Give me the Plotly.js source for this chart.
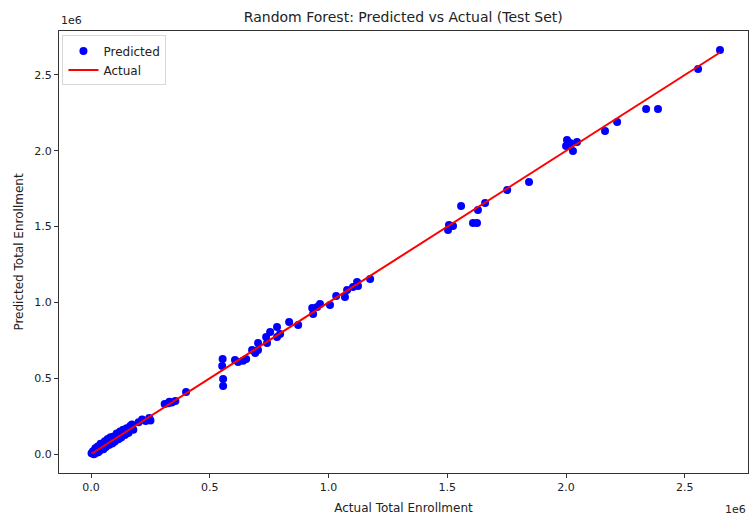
<!DOCTYPE html>
<html>
<head>
<meta charset="utf-8">
<script src="https://cdn.plot.ly/plotly-3.0.1.min.js"></script>
<style>html,body{margin:0;padding:0;background:#fff;}#chart{width:751px;height:517px;}</style>
</head>
<body>
<div id="chart"></div>
<script>
// Actual vs predicted total enrollment (test set), values in persons
const actualValues = [
  2000, 8000, 12000, 18000, 22000, 28000, 35000, 40000, 45000, 52000,
  58000, 63000, 70000, 75000, 82000, 88000, 95000, 100000, 108000, 115000,
  122000, 128000, 135000, 142000, 150000, 158000, 165000, 172000, 178000,
  30000, 60000, 90000, 120000, 150000,
  200000, 215000, 230000, 245000, 250000,
  310000, 325000, 330000, 340000, 355000, 400000,
  554000, 552000, 556000, 556000,
  606000, 619000, 640000, 653000, 678000, 691000, 703000, 703000, 737000, 741000,
  754000, 783000, 783000, 796000, 834000, 872000,
  931000, 935000, 952000, 964000, 1006000, 1032000, 1069000, 1078000, 1103000,
  1124000, 1120000, 1175000,
  1507000, 1524000, 1503000, 1558000, 1608000, 1625000, 1629000, 1659000,
  1752000, 1844000,
  2004000, 2017000, 2046000, 2029000, 2000000,
  2164000, 2215000, 2337000, 2387000, 2556000, 2648000
];
const predictedValues = [
  5000, 18000, -2000, 38000, 8000, 50000, 20000, 68000, 38000, 32000,
  85000, 48000, 100000, 60000, 110000, 70000, 115000, 82000, 135000, 98000,
  148000, 110000, 160000, 125000, 170000, 140000, 185000, 195000, 160000,
  12000, 45000, 72000, 105000, 135000,
  210000, 228000, 218000, 238000, 222000,
  330000, 335000, 345000, 340000, 350000, 409000,
  627000, 580000, 495000, 449000,
  620000, 607000, 615000, 627000, 686000, 666000, 732000, 686000, 772000, 732000,
  805000, 838000, 772000, 792000, 871000, 851000,
  963000, 923000, 970000, 989000, 983000, 1042000, 1036000, 1082000, 1102000,
  1108000, 1135000, 1154000,
  1511000, 1504000, 1478000, 1636000, 1524000, 1524000, 1609000, 1656000,
  1741000, 1794000,
  2071000, 2051000, 2058000, 1999000, 2032000,
  2131000, 2190000, 2276000, 2276000, 2540000, 2665000
];
const tickValues = [0, 500000, 1000000, 1500000, 2000000, 2500000];
const tickLabels = ['0.0', '0.5', '1.0', '1.5', '2.0', '2.5'];

const sortedActual = actualValues.slice().sort((a, b) => a - b);
const lineX = [sortedActual[0], sortedActual[sortedActual.length - 1]];

const font = 'DejaVu Sans, sans-serif';
const traces = [
  {
    x: actualValues, y: predictedValues, type: 'scatter', mode: 'markers',
    name: 'Predicted', marker: {color: '#0000ff', size: 8}
  },
  {
    x: lineX, y: lineX, type: 'scatter', mode: 'lines',
    name: 'Actual', line: {color: '#ff0000', width: 2}
  }
];
const axisCommon = {
  showgrid: false, zeroline: false, showline: true, mirror: true,
  linecolor: '#333', linewidth: 1, ticks: 'outside', ticklen: 4,
  tickcolor: '#333', tickfont: {family: font, size: 11, color: '#222'},
  tickvals: tickValues, ticktext: tickLabels
};
const layout = {
  width: 751, height: 517,
  margin: {l: 59, r: 3, t: 31, b: 44},
  paper_bgcolor: '#ffffff', plot_bgcolor: '#ffffff',
  font: {family: font, color: '#222'},
  title: {text: 'Random Forest: Predicted vs Actual (Test Set)', font: {family: font, size: 14, color: '#222'}, x: 0.537, xanchor: 'center', y: 0.967, yanchor: 'middle'},
  xaxis: Object.assign({}, axisCommon, {
    range: [-135000, 2766000],
    title: {text: 'Actual Total Enrollment', font: {family: font, size: 12, color: '#222'}, standoff: 10}
  }),
  yaxis: Object.assign({}, axisCommon, {
    range: [-125000, 2790000],
    title: {text: 'Predicted Total Enrollment', font: {family: font, size: 12, color: '#222'}, standoff: 8}
  }),
  showlegend: true,
  legend: {
    x: 0.005, y: 0.99, xanchor: 'left', yanchor: 'top',
    bgcolor: 'rgba(255,255,255,0.9)', bordercolor: '#d8d8d8', borderwidth: 1,
    font: {family: font, size: 12, color: '#222'}
  },
  annotations: [
    {text: '1e6', xref: 'paper', yref: 'paper', x: 0, y: 1, xanchor: 'left', yanchor: 'bottom', yshift: 2, showarrow: false, font: {family: font, size: 11, color: '#222'}},
    {text: '1e6', xref: 'paper', yref: 'paper', x: 1, y: 0, xanchor: 'right', yanchor: 'top', yshift: -28, showarrow: false, font: {family: font, size: 11, color: '#222'}}
  ]
};
Plotly.newPlot('chart', traces, layout, {displayModeBar: false, staticPlot: true});
</script>
</body>
</html>
